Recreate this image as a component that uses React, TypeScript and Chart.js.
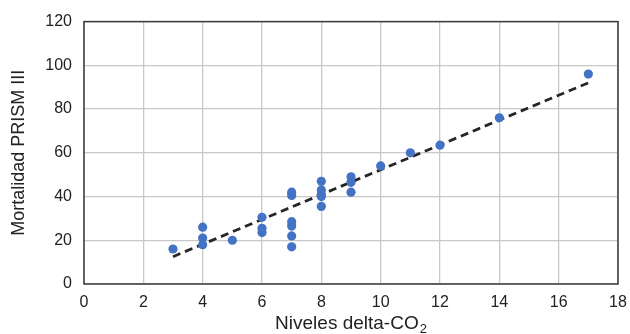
import React, { useEffect, useRef } from "react";
import { Chart, registerables } from "chart.js";

Chart.register(...registerables);

const deltaCO2 = [3, 4, 4, 4, 5, 6, 6, 6, 7, 7, 7, 7, 7, 7, 8, 8, 8, 8, 8, 9, 9, 9, 10, 11, 12, 14, 17];
const prism = [16, 26, 21, 18, 20, 30.5, 25.5, 23.5, 42, 40.5, 28.5, 26.5, 22, 17, 47, 43, 41, 40, 35.5, 49, 46.5, 42, 54, 60, 63.5, 76, 96];
const trendX = [3, 17];
const trendY = [12.5, 92];
const xTicks = [0, 2, 4, 6, 8, 10, 12, 14, 16, 18];
const yTicks = [0, 20, 40, 60, 80, 100, 120];
const xTitleMain = "Niveles delta-CO";
const xTitleSub = "2";

const FONT = "'Liberation Sans', Arial, sans-serif";

const borderPlugin = {
  id: "boxBorder",
  afterDraw(chart: any) {
    const { ctx, chartArea } = chart;
    ctx.save();
    ctx.strokeStyle = "#3a3a3a";
    ctx.lineWidth = 1.5;
    ctx.strokeRect(chartArea.left, chartArea.top, chartArea.right - chartArea.left, chartArea.bottom - chartArea.top);
    ctx.fillStyle = "#222";
    ctx.textBaseline = "alphabetic";
    ctx.font = `19px ${FONT}`;
    const wMain = ctx.measureText(xTitleMain).width;
    ctx.font = `13px ${FONT}`;
    const wSub = ctx.measureText(xTitleSub).width;
    const total = wMain + 1 + wSub;
    const cx = (chartArea.left + chartArea.right) / 2;
    const x0 = cx - total / 2;
    const base = chart.height - 5;
    ctx.font = `19px ${FONT}`;
    ctx.textAlign = "left";
    ctx.fillText(xTitleMain, x0, base);
    ctx.font = `13px ${FONT}`;
    ctx.fillText(xTitleSub, x0 + wMain + 1, base + 4);
    ctx.restore();
  },
};

export default function App() {
  const ref = useRef<HTMLCanvasElement>(null);
  useEffect(() => {
    document.body.style.margin = "0";
    const c = ref.current!;
    const chart = new Chart(c, {
      type: "scatter",
      data: {
        datasets: [
          {
            label: "points",
            data: deltaCO2.map((x, i) => ({ x, y: prism[i] })),
            backgroundColor: "#4472C4",
            borderColor: "#4472C4",
            pointRadius: 4.6,
            pointHoverRadius: 4.6,
            borderWidth: 0,
            order: 1,
          },
          {
            label: "trend",
            data: trendX.map((x, i) => ({ x, y: trendY[i] })),
            showLine: true,
            borderColor: "#262626",
            borderWidth: 2.8,
            borderDash: [8, 5],
            pointRadius: 0,
            order: 2,
          },
        ],
      },
      options: {
        animation: false,
        responsive: false,
        events: [],
        layout: { padding: { top: 20, right: 12, left: 0, bottom: 0 } },
        plugins: { legend: { display: false }, tooltip: { enabled: false } },
        scales: {
          x: {
            type: "linear",
            min: 0,
            max: 18,
            afterBuildTicks: (s: any) => {
              s.ticks = xTicks.map((v) => ({ value: v }));
            },
            afterFit: (s: any) => {
              s.height = 50;
              s.paddingLeft = 0;
              s.paddingRight = 0;
            },
            grid: { color: "#c8c8c8", lineWidth: 1.3, drawTicks: false },
            border: { display: false },
            ticks: { color: "#222", font: { family: FONT, size: 16 }, padding: 9, maxRotation: 0 },
            title: { display: false },
          },
          y: {
            type: "linear",
            min: 0,
            max: 120,
            afterBuildTicks: (s: any) => {
              s.ticks = yTicks.map((v) => ({ value: v }));
            },
            afterFit: (s: any) => {
              s.width = 84;
            },
            grid: { color: "#c8c8c8", lineWidth: 1.3, drawTicks: false },
            border: { display: false },
            ticks: { color: "#222", font: { family: FONT, size: 16 }, padding: 12 },
            title: {
              display: true,
              text: "Mortalidad PRISM III",
              color: "#222",
              font: { family: FONT, size: 18 },
              padding: { top: 8, bottom: 0 },
            },
          },
        },
      },
      plugins: [borderPlugin],
    });
    return () => chart.destroy();
  }, []);
  return <canvas ref={ref} width={630} height={334} style={{ display: "block" }} />;
}
